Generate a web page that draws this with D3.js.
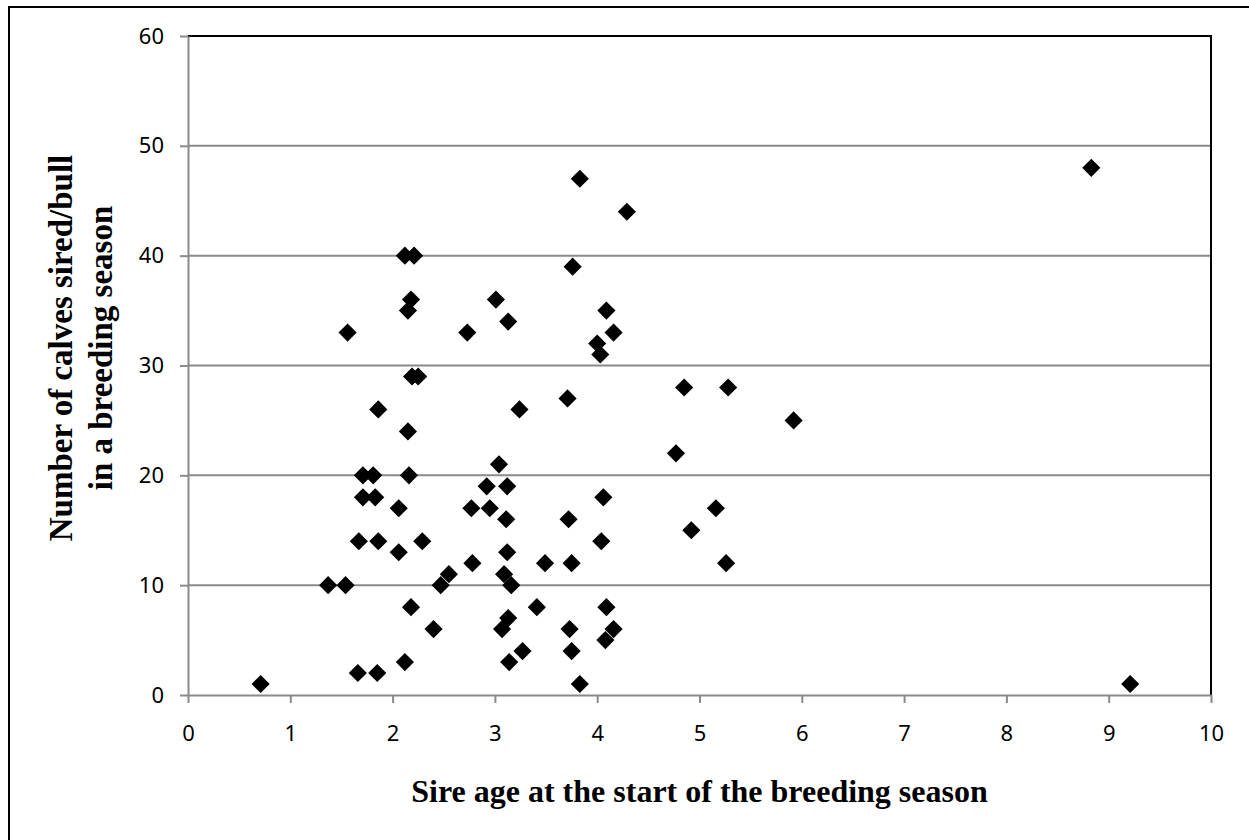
<!DOCTYPE html>
<html lang="en">
<head>
    <meta charset="UTF-8">
    <title>Calves sired vs sire age</title>
    <script src="https://d3js.org/d3.v7.min.js"></script>
    <style>
        body {
            margin: 0;
            background-color: #fff;
        }
        .tick text {
            font-family: "Noto Sans", "Open Sans", sans-serif;
            font-size: 22px;
            fill: #000;
        }
        .axis-title {
            font-family: "Liberation Serif", "Times New Roman", serif;
            font-weight: bold;
            font-size: 33px;
            fill: #000;
        }
        .x-title {
            font-size: 32px;
        }
    </style>
</head>
<body>
    <svg id="chart" width="1249" height="840"></svg>
    <script>
        // Sire age (years) and number of calves sired per bull
        const sireAge = [
            0.71, 1.37, 1.54, 1.56, 1.67, 1.66, 1.71, 1.71, 1.81, 1.83,
            1.86, 1.85, 1.86, 2.06, 2.06, 2.12, 2.12, 2.21, 2.15, 2.18,
            2.15, 2.16, 2.18, 2.19, 2.25, 2.29, 2.40, 2.47, 2.55, 2.73,
            2.77, 2.78, 2.92, 2.95, 3.01, 3.04, 3.07, 3.09, 3.12, 3.11,
            3.12, 3.13, 3.13, 3.14, 3.16, 3.24, 3.27, 3.41, 3.49, 3.71,
            3.72, 3.73, 3.75, 3.75, 3.76, 3.83, 3.83, 4.00, 4.03, 4.04,
            4.06, 4.08, 4.09, 4.09, 4.16, 4.16, 4.29, 4.77, 4.85, 4.92,
            5.16, 5.28, 5.26, 5.92, 8.83, 9.21
        ];
        const calves = [
            1, 10, 10, 33, 14, 2, 20, 18, 20, 18,
            14, 2, 26, 13, 17, 3, 40, 40, 35, 36,
            24, 20, 8, 29, 29, 14, 6, 10, 11, 33,
            17, 12, 19, 17, 36, 21, 6, 11, 19, 16,
            13, 34, 7, 3, 10, 26, 4, 8, 12, 27,
            16, 6, 12, 4, 39, 1, 47, 32, 31, 14,
            18, 5, 8, 35, 6, 33, 44, 22, 28, 15,
            17, 28, 12, 25, 48, 1
        ];
        const xTicks = [0, 1, 2, 3, 4, 5, 6, 7, 8, 9, 10];
        const yTicks = [0, 10, 20, 30, 40, 50, 60];

        const xTitle = "Sire age at the start of the breeding season";
        const yTitle = ["Number of calves sired/bull", "in a breeding season"];

        const svg = d3.select("#chart");
        const plot = { left: 188, right: 1211, top: 36, bottom: 695 };

        const x = d3.scaleLinear().domain([0, 10]).range([plot.left, plot.right]);
        const y = d3.scaleLinear().domain([0, 60]).range([plot.bottom, plot.top]);

        // outer chart frame
        svg.append("rect")
            .attr("x", 9).attr("y", 7)
            .attr("width", 1260).attr("height", 850)
            .attr("fill", "none")
            .attr("stroke", "#000")
            .attr("stroke-width", 2);

        // horizontal gridlines
        svg.append("g")
            .selectAll("line")
            .data(yTicks.filter(d => d > 0 && d < 60))
            .join("line")
            .attr("x1", plot.left).attr("x2", plot.right)
            .attr("y1", d => y(d)).attr("y2", d => y(d))
            .attr("stroke", "#8a8a8a")
            .attr("stroke-width", 2);

        // plot area border (top / right)
        svg.append("path")
            .attr("d", `M${plot.left},${plot.top}H${plot.right}V${plot.bottom}`)
            .attr("fill", "none")
            .attr("stroke", "#000")
            .attr("stroke-width", 2);

        const yAxis = svg.append("g")
            .attr("transform", `translate(${plot.left},0)`)
            .call(d3.axisLeft(y).tickValues(yTicks).tickSize(8).tickPadding(16).tickSizeOuter(0));

        const xAxis = svg.append("g")
            .attr("transform", `translate(0,${plot.bottom})`)
            .call(d3.axisBottom(x).tickValues(xTicks).tickSize(8).tickPadding(22).tickSizeOuter(0));

        [yAxis, xAxis].forEach(g => {
            g.select(".domain").attr("stroke", "#8a8a8a").attr("stroke-width", 2);
            g.selectAll(".tick line").attr("stroke", "#8a8a8a").attr("stroke-width", 2);
        });

        // data points, diamonds
        const diamond = d3.symbol().type(d3.symbolSquare).size(165);
        svg.append("g")
            .selectAll("path")
            .data(sireAge.map((a, i) => [a, calves[i]]))
            .join("path")
            .attr("d", diamond)
            .attr("transform", d => `translate(${x(d[0])},${y(d[1])}) rotate(45)`)
            .attr("fill", "#000");

        // axis titles
        svg.append("text")
            .attr("class", "axis-title x-title")
            .attr("x", (plot.left + plot.right) / 2)
            .attr("y", 802)
            .attr("text-anchor", "middle")
            .text(xTitle);

        svg.append("g")
            .attr("transform", "translate(0,348) rotate(-90)")
            .selectAll("text")
            .data(yTitle)
            .join("text")
            .attr("class", "axis-title")
            .attr("x", 0)
            .attr("y", (d, i) => 72 + i * 40)
            .attr("text-anchor", "middle")
            .text(d => d);
    </script>
</body>
</html>
